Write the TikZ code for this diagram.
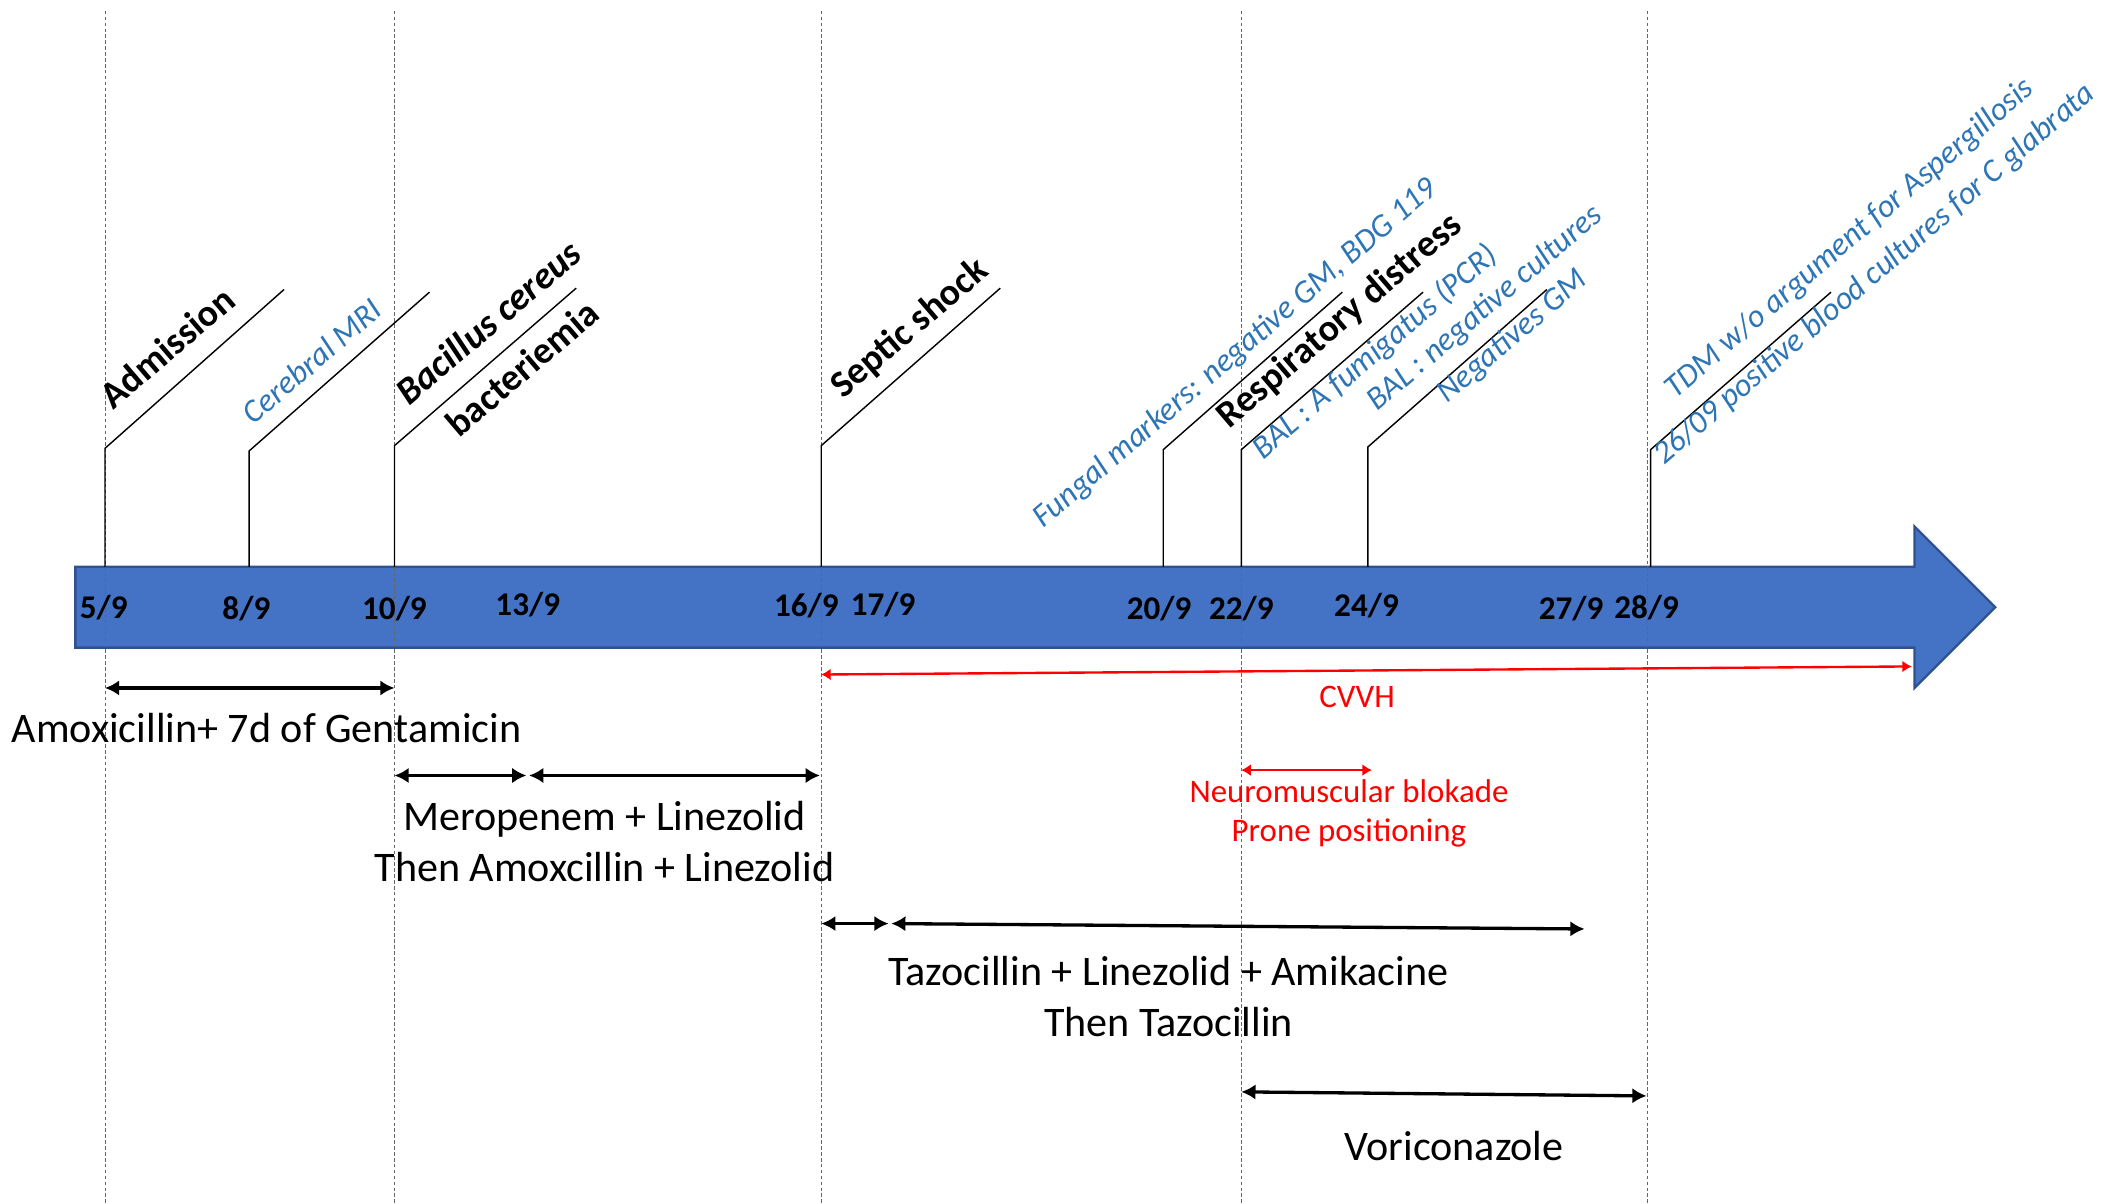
\documentclass[tikz,border=0pt]{standalone}
\usepackage{fontspec}
\setmainfont{Carlito}
\usepackage{tikz}
\usetikzlibrary{arrows.meta, positioning, calc}

\definecolor{barblue}{HTML}{4472C4}
\definecolor{bardark}{HTML}{2F528F}
\definecolor{noteblue}{HTML}{2E75B6}

\tikzset{
    guide/.style={black!60, dash pattern=on 1.5pt off 1pt, line width=0.35pt},
    stem/.style={black, line width=0.6pt},
    datelab/.style={font=\fontsize{14}{16}\selectfont\bfseries, inner sep=1pt},
    evt/.style={rotate=40.5, anchor=base west, inner sep=0pt, font=\fontsize{16}{18}\selectfont\bfseries},
    note/.style={rotate=40.5, anchor=base west, inner sep=0pt, text=noteblue, font=\fontsize{13.7}{15}\selectfont\itshape},
    span/.style={{Latex[length=6pt,width=6.5pt]}-{Latex[length=6pt,width=6.5pt]}, line width=1.4pt},
    redspan/.style={{Latex[length=4pt,width=5pt]}-{Latex[length=4pt,width=5pt]}, red, line width=1pt},
    treat/.style={align=center, font=\fontsize{17.8}{21.6}\selectfont},
    redlab/.style={align=center, text=red, font=\fontsize{13.9}{16.5}\selectfont}
}

\begin{document}
\begin{tikzpicture}[x=0.02cm, y=-0.02cm]
    \useasboundingbox (0,0) rectangle (1568,894);

    % Time axis
    \draw[fill=barblue, draw=bardark, line width=1pt] (56,421) -- (1422,421) -- (1422,391) -- (1482,451)
        -- (1422,511) -- (1422,481) -- (56,481) -- cycle;

    % Guides
    \draw[guide] (78,8) -- (78,894);
    \draw[guide] (293,8) -- (293,894);
    \draw[guide] (610,8) -- (610,894);
    \draw[guide] (922,8) -- (922,894);
    \draw[guide] (1224,8) -- (1224,894);

    % Dates
    \node[datelab] (d5) at (77,451) {5/9};
    \node[datelab] (d8) at (183,452) {8/9};
    \node[datelab] (d10) at (293,452) {10/9};
    \node[datelab] (d13) at (392,449) {13/9};
    \node[datelab] (d16) at (599,450) {16/9};
    \node[datelab] (d17) at (656,449) {17/9};
    \node[datelab] (d20) at (861,452) {20/9};
    \node[datelab] (d22) at (922,452) {22/9};
    \node[datelab] (d24) at (1015,450) {24/9};
    \node[datelab] (d27) at (1167,452) {27/9};
    \node[datelab] (d28) at (1223,451) {28/9};

    % Events
    \coordinate (s1) at (78,421);   \coordinate (k1) at (78,333);   \coordinate (e1) at (211,215);
    \coordinate (s2) at (185,421);  \coordinate (k2) at (185,335);  \coordinate (e2) at (319,217);
    \coordinate (s3) at (293,421);  \coordinate (k3) at (293,331);  \coordinate (e3) at (428,214);
    \coordinate (s4) at (610,421);  \coordinate (k4) at (610,331);  \coordinate (e4) at (743,214);
    \coordinate (s5) at (864,421);  \coordinate (k5) at (864,334);  \coordinate (e5) at (997,217);
    \coordinate (s6) at (922,421);  \coordinate (k6) at (922,334);  \coordinate (e6) at (1057,217);
    \coordinate (s7) at (1016,421); \coordinate (k7) at (1016,332); \coordinate (e7) at (1149,215);
    \coordinate (s8) at (1226,421); \coordinate (k8) at (1226,334); \coordinate (e8) at (1360,217);
    \draw[stem] (s1) -- (k1) -- (e1);
    \draw[stem] (s2) -- (k2) -- (e2);
    \draw[stem] (s3) -- (k3) -- (e3);
    \draw[stem] (s4) -- (k4) -- (e4);
    \draw[stem] (s5) -- (k5) -- (e5);
    \draw[stem] (s6) -- (k6) -- (e6);
    \draw[stem] (s7) -- (k7) -- (e7);
    \draw[stem] (s8) -- (k8) -- (e8);

    \node[evt] (adm) at (84,305) {Admission};
    \node[note] (mri) at (188,316) {Cerebral MRI};
    \node[evt] (bac) at (304,302) {\itshape Bacillus cereus};
    \node[evt] (bacb) at (341,326) {bacteriemia};
    \node[evt] (sep) at (626,297) {Septic shock};
    \node[note] (fung) at (775,393) {Fungal markers: negative GM, BDG 119};
    \node[evt] (resp) at (913,319) {Respiratory distress};
    \node[note] (bal) at (938,342) {BAL : A fumigatus (PCR)};
    \node[note] (balneg) at (1023,306) {BAL : negative cultures};
    \node[note] (gm) at (1075,300) {Negatives GM};
    \node[note] (tdm) at (1244,297) {TDM w/o argument for Aspergillosis};
    \node[note] (cand) at (1236,346) {26/09 positive blood cultures for C glabrata};

    % Organ support
    \coordinate (cv1) at (610,501); \coordinate (cv2) at (1420,495);
    \draw[redspan] (cv1) -- (cv2);
    \node[redlab] (cvvh) at (1008,518) {CVVH};
    \coordinate (nm1) at (922,572); \coordinate (nm2) at (1019,572);
    \draw[redspan] (nm1) -- (nm2);
    \node[redlab] (nmb) at (1002,604) {Neuromuscular blokade\\Prone positioning};

    % Antimicrobials
    \coordinate (a1) at (78,511); \coordinate (a2) at (293,511);
    \draw[span] (a1) -- (a2);
    \node[treat] (amox) at (198,541) {Amoxicillin+ 7d of Gentamicin};
    \coordinate (m1) at (293,576); \coordinate (m2) at (391,576); \coordinate (m3) at (393,576); \coordinate (m4) at (609,576);
    \draw[span] (m1) -- (m2);
    \draw[span] (m3) -- (m4);
    \node[treat] (mero) at (449,625) {Meropenem + Linezolid\\Then Amoxcillin + Linezolid};
    \coordinate (t1) at (610,686); \coordinate (t2) at (660,686); \coordinate (t3) at (662,686); \coordinate (t4) at (1177,690);
    \draw[span] (t1) -- (t2);
    \draw[span] (t3) -- (t4);
    \node[treat] (tazo) at (868,740) {Tazocillin + Linezolid + Amikacine\\Then Tazocillin};
    \coordinate (v1) at (922,811); \coordinate (v2) at (1223,814);
    \draw[span] (v1) -- (v2);
    \node[treat] (vori) at (1080,851) {Voriconazole};
\end{tikzpicture}
\end{document}
